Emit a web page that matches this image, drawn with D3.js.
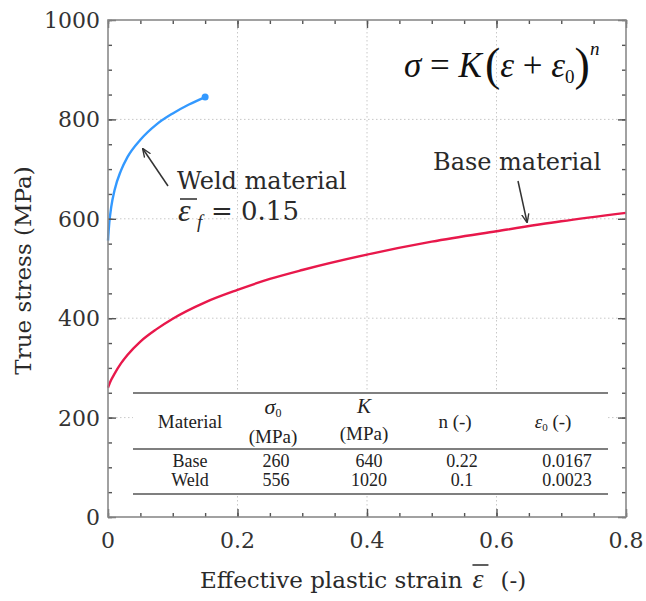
<!DOCTYPE html>
<html>
<head>
<meta charset="utf-8">
<script src="https://cdn.jsdelivr.net/npm/d3@7"></script>
<style>
  body { margin: 0; background: #fff; }
  svg { display: block; }
</style>
</head>
<body>
<svg id="chart"></svg>
<script>
// curves (strain, true stress in MPa)
var baseStrain = [0, 0.002, 0.005, 0.01, 0.02, 0.03, 0.05, 0.075, 0.1, 0.15, 0.2, 0.25, 0.3, 0.4, 0.5, 0.6, 0.7, 0.8];
var baseStress = [260, 267, 276, 288, 309, 326, 353, 378, 399, 432, 457, 479, 497, 528, 554, 575, 595, 612];
var weldStrain = [0, 0.0002, 0.0005, 0.001, 0.002, 0.005, 0.01, 0.02, 0.03, 0.05, 0.075, 0.1, 0.125, 0.15];
var weldStress = [556, 560, 567, 576, 592, 624, 657, 697, 724, 759, 790, 812, 830, 845];

var xTicks = [0, 0.2, 0.4, 0.6, 0.8];
var yTicks = [0, 200, 400, 600, 800, 1000];

// table contents
var tableMaterial = ["Base", "Weld"];
var tableSigma0 = ["260", "556"];
var tableK = ["640", "1020"];
var tableN = ["0.22", "0.1"];
var tableEps0 = ["0.0167", "0.0023"];

var width = 646, height = 601;
var pLeft = 108, pRight = 626, pTop = 20, pBottom = 517;

var svg = d3.select("#chart").attr("width", width).attr("height", height);

var x = d3.scaleLinear().domain([0, 0.8]).range([pLeft, pRight]);
var y = d3.scaleLinear().domain([0, 1000]).range([pBottom, pTop]);

var serif = "DejaVu Serif";
var times = "Liberation Serif";
var textColor = "#2a2a2a";

// dotted grid
svg.append("g").selectAll("line")
    .data(xTicks.slice(1, -1))
    .enter().append("line")
    .attr("x1", d => x(d)).attr("x2", d => x(d))
    .attr("y1", pTop).attr("y2", pBottom)
    .attr("stroke", "#c8c8c8").attr("stroke-width", 1)
    .attr("stroke-dasharray", "1.5,2.5");
svg.append("g").selectAll("line")
    .data(yTicks.slice(1, -1))
    .enter().append("line")
    .attr("x1", pLeft).attr("x2", pRight)
    .attr("y1", d => y(d)).attr("y2", d => y(d))
    .attr("stroke", "#c8c8c8").attr("stroke-width", 1)
    .attr("stroke-dasharray", "1.5,2.5");

// curves
var line = d3.line().curve(d3.curveMonotoneX);
svg.append("path")
    .attr("d", line(baseStrain.map((s, i) => [x(s), y(baseStress[i])])))
    .attr("fill", "none").attr("stroke", "#e8184b").attr("stroke-width", 2.4);
svg.append("path")
    .attr("d", line(weldStrain.map((s, i) => [x(s), y(weldStress[i])])))
    .attr("fill", "none").attr("stroke", "#3399ff").attr("stroke-width", 2.4);
svg.append("circle")
    .attr("cx", x(weldStrain[weldStrain.length - 1]))
    .attr("cy", y(weldStress[weldStress.length - 1]))
    .attr("r", 3.5).attr("fill", "#3399ff");

// axes: inward ticks on all four sides
var xMinor = d3.range(0, 0.8001, 0.05);
var yMinor = d3.range(0, 1000.1, 50);
function tickGroup(axisFn, shift, scale, ticks, len) {
  svg.append("g")
      .attr("transform", shift)
      .call(axisFn(scale).tickValues(ticks).tickSize(len).tickFormat(""))
      .call(g => g.select(".domain").remove())
      .selectAll("line").attr("stroke", "#555").attr("stroke-width", 1.4);
}
tickGroup(d3.axisTop, "translate(0," + pBottom + ")", x, xMinor, 4);
tickGroup(d3.axisTop, "translate(0," + pBottom + ")", x, xTicks, 8);
tickGroup(d3.axisBottom, "translate(0," + pTop + ")", x, xMinor, 4);
tickGroup(d3.axisBottom, "translate(0," + pTop + ")", x, xTicks, 8);
tickGroup(d3.axisRight, "translate(" + pLeft + ",0)", y, yMinor, 4);
tickGroup(d3.axisRight, "translate(" + pLeft + ",0)", y, yTicks, 8);
tickGroup(d3.axisLeft, "translate(" + pRight + ",0)", y, yMinor, 4);
tickGroup(d3.axisLeft, "translate(" + pRight + ",0)", y, yTicks, 8);

svg.append("rect")
    .attr("x", pLeft).attr("y", pTop)
    .attr("width", pRight - pLeft).attr("height", pBottom - pTop)
    .attr("fill", "none").attr("stroke", "#8a8a8a").attr("stroke-width", 1.6);

// tick labels
svg.append("g").selectAll("text")
    .data(xTicks)
    .enter().append("text")
    .attr("x", d => x(d)).attr("y", pBottom + 31)
    .attr("text-anchor", "middle")
    .style("font-family", serif).style("font-size", "22px").style("fill", "#333")
    .text(d => d === 0 ? "0" : d3.format(".1f")(d));
svg.append("g").selectAll("text")
    .data(yTicks)
    .enter().append("text")
    .attr("x", pLeft - 8).attr("y", d => y(d) + 8)
    .attr("text-anchor", "end")
    .style("font-family", serif).style("font-size", "22px").style("fill", "#333")
    .text(d => d);

// axis titles
svg.append("text")
    .attr("transform", "translate(31," + ((pTop + pBottom) / 2 + 2) + ") rotate(-90)")
    .attr("text-anchor", "middle")
    .style("font-family", serif).style("font-size", "23px").style("fill", textColor)
    .text("True stress (MPa)");

var xt = svg.append("text")
    .attr("x", 200).attr("y", 588)
    .style("font-family", serif).style("font-size", "23px").style("fill", textColor)
    .text("Effective plastic strain");
var xtLen = xt.node().getComputedTextLength();
svg.append("text")
    .attr("x", 200 + xtLen + 10).attr("y", 588)
    .style("font-family", times).style("font-style", "italic").style("font-size", "28px").style("fill", textColor)
    .text("ε");
svg.append("line")
    .attr("x1", 200 + xtLen + 10).attr("x2", 200 + xtLen + 26)
    .attr("y1", 565).attr("y2", 565)
    .attr("stroke", textColor).attr("stroke-width", 1.5);
svg.append("text")
    .attr("x", 200 + xtLen + 38).attr("y", 588)
    .style("font-family", serif).style("font-size", "23px").style("fill", textColor)
    .text("(-)");

// formula
var f = svg.append("text")
    .attr("x", 404).attr("y", 77)
    .style("font-family", times).style("font-size", "35px").style("fill", "#111");
f.append("tspan").style("font-style", "italic").text("σ");
f.append("tspan").text(" = ");
f.append("tspan").style("font-style", "italic").text("K");
f.append("tspan").attr("dx", 3).style("font-size", "46px").attr("dy", 3).text("(");
f.append("tspan").style("font-style", "italic").attr("dy", -3).text("ε");
f.append("tspan").text(" + ");
f.append("tspan").style("font-style", "italic").text("ε");
f.append("tspan").style("font-size", "19px").attr("dy", 6).text("0");
f.append("tspan").style("font-size", "46px").attr("dy", -3).text(")");
f.append("tspan").style("font-size", "19px").style("font-style", "italic").attr("dy", -25).text("n");

// annotations
var arrow = svg.append("defs").append("marker")
    .attr("id", "arr").attr("viewBox", "0 0 10 10")
    .attr("refX", 9).attr("refY", 5)
    .attr("markerWidth", 9).attr("markerHeight", 9)
    .attr("orient", "auto")
    .attr("markerUnits", "userSpaceOnUse");
arrow.append("path").attr("d", "M0,1 L10,5 L0,9").attr("fill", "none").attr("stroke", "#333").attr("stroke-width", 1.5);

svg.append("line")
    .attr("x1", 168).attr("y1", 186).attr("x2", 143).attr("y2", 149)
    .attr("stroke", "#333").attr("stroke-width", 1.5).attr("marker-end", "url(#arr)");
svg.append("line")
    .attr("x1", 518).attr("y1", 181).attr("x2", 527).attr("y2", 222)
    .attr("stroke", "#333").attr("stroke-width", 1.5).attr("marker-end", "url(#arr)");

svg.append("text")
    .attr("x", 177).attr("y", 189)
    .style("font-family", serif).style("font-size", "24px").style("fill", textColor)
    .text("Weld material");
svg.append("text")
    .attr("x", 178).attr("y", 221)
    .style("font-family", times).style("font-style", "italic").style("font-size", "32px").style("fill", textColor)
    .text("ε");
svg.append("line")
    .attr("x1", 180).attr("x2", 197).attr("y1", 199).attr("y2", 199)
    .attr("stroke", textColor).attr("stroke-width", 1.5);
svg.append("text")
    .attr("x", 197).attr("y", 228)
    .style("font-family", times).style("font-style", "italic").style("font-size", "19px").style("fill", textColor)
    .text("f");
svg.append("text")
    .attr("x", 211).attr("y", 220)
    .style("font-family", serif).style("font-size", "26px").style("fill", textColor)
    .text("= 0.15");

svg.append("text")
    .attr("x", 433).attr("y", 170)
    .style("font-family", serif).style("font-size", "24px").style("fill", textColor)
    .text("Base material");

// table
var tl = 133, tr = 608;
svg.append("rect").attr("x", tl).attr("y", 392).attr("width", tr - tl).attr("height", 103).attr("fill", "#fff");
[393, 449, 494].forEach(function(yy) {
  svg.append("line").attr("x1", tl).attr("x2", tr).attr("y1", yy).attr("y2", yy)
      .attr("stroke", "#555").attr("stroke-width", 1.3);
});
var cols = [190, 276, 369, 462, 567];
var tfont = function(sel, size) {
  return sel.style("font-family", times).style("font-size", size + "px").style("fill", "#222").attr("text-anchor", "middle");
};
tfont(svg.append("text").attr("x", 190).attr("y", 428), 19).text("Material");
tfont(svg.append("text").attr("x", 273).attr("y", 414), 22).style("font-style", "italic").text("σ")
    .append("tspan").style("font-size", "12px").style("font-style", "normal").attr("dy", 3).text("0");
tfont(svg.append("text").attr("x", 273).attr("y", 443), 19).text("(MPa)");
tfont(svg.append("text").attr("x", 364).attr("y", 413), 21).style("font-style", "italic").text("K");
tfont(svg.append("text").attr("x", 364).attr("y", 440), 19).text("(MPa)");
tfont(svg.append("text").attr("x", 455).attr("y", 428), 19).text("n (-)");
var e0 = tfont(svg.append("text").attr("x", 553).attr("y", 428), 19);
e0.append("tspan").style("font-style", "italic").text("ε");
e0.append("tspan").style("font-size", "11px").attr("dy", 3).text("0");
e0.append("tspan").attr("dy", -3).text("  (-)");

var rows = tableMaterial.map((m, i) => [m, tableSigma0[i], tableK[i], tableN[i], tableEps0[i]]);
rows.forEach(function(r, i) {
  r.forEach(function(v, j) {
    tfont(svg.append("text").attr("x", cols[j]).attr("y", 467 + i * 19), 18).text(v);
  });
});
</script>
</body>
</html>
